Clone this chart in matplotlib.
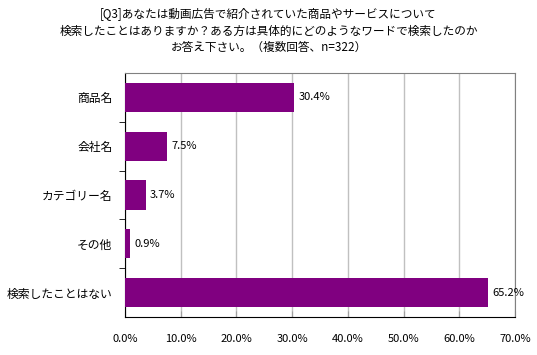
import matplotlib
matplotlib.use("Agg")
import matplotlib.pyplot as plt
from matplotlib.ticker import FixedLocator, PercentFormatter

plt.rcParams['font.family'] = ['Noto Sans CJK JP', 'DejaVu Sans']

categories = ["商品名", "会社名", "カテゴリー名", "その他", "検索したことはない"]
values = [30.4, 7.5, 3.7, 0.9, 65.2]
xticks = [0, 10, 20, 30, 40, 50, 60, 70]
title = ("[Q3]あなたは動画広告で紹介されていた商品やサービスについて\n"
         "検索したことはありますか？ある方は具体的にどのようなワードで検索したのか\n"
         "お答え下さい。（複数回答、n=322）")

fig = plt.figure(figsize=(5.37, 3.55), dpi=100)
ax = fig.add_axes([125 / 537, 1 - 317 / 355, (515 - 125) / 537, (317 - 73) / 355])

ypos = list(range(len(categories)))
ax.barh(ypos, values, height=0.6, color="#800080", zorder=3)
for y, v in zip(ypos, values):
    ax.text(v + 0.8, y, f"{v:.1f}%", va="center", ha="left", fontsize=8)

ax.set_xlim(0, 70)
ax.set_ylim(len(categories) - 0.5, -0.5)
ax.set_xticks(xticks)
ax.xaxis.set_major_formatter(PercentFormatter(decimals=1))
ax.set_yticks(ypos)
ax.set_yticklabels(categories, fontsize=8.5)
ax.yaxis.set_minor_locator(FixedLocator([i + 0.5 for i in range(len(categories) - 1)]))
ax.tick_params(axis="y", which="major", length=0, pad=9)
ax.tick_params(axis="y", which="minor", length=4, direction="out", color="black")
ax.tick_params(axis="x", length=4, direction="in", color="#a0a0a0", labelsize=8, pad=12)
ax.grid(axis="x", color="#c0c0c0", linewidth=1, zorder=0)

ax.spines["left"].set_color("black")
ax.spines["bottom"].set_color("black")
ax.spines["top"].set_color("#808080")
ax.spines["right"].set_color("#808080")

fig.text(0.5, 1 - 31 / 355, title, ha="center", va="center", fontsize=8.4, linespacing=1.38)

fig.savefig("out.png", dpi=100)
